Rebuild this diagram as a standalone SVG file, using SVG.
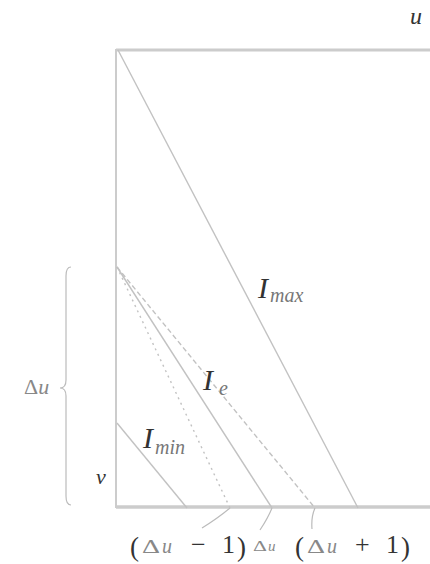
<svg xmlns="http://www.w3.org/2000/svg" width="430" height="564" viewBox="0 0 430 564">
<defs>
<style>
.ax{stroke:#cccccc;fill:none}
.ln{stroke:#c2c2c2;stroke-width:1.4;fill:none}
.pt{stroke:#bbbbbb;stroke-width:1.2;fill:none}
.t{font-family:"Liberation Serif",serif;fill:#333333}
.it{font-style:italic}
.g{fill:#888888}
.sub{font-family:"Liberation Serif",serif;font-style:italic;fill:#777777}
</style>
</defs>
<rect width="430" height="564" fill="#ffffff"/>
<g id="frame">
<line class="ax" x1="116" y1="49" x2="116" y2="508" stroke-width="2"/>
<line class="ax" x1="116" y1="50" x2="430" y2="50" stroke-width="3" stroke="#d4d4d4"/>
<line class="ax" x1="116" y1="507" x2="430" y2="507" stroke-width="3.5" stroke="#dadada"/>
</g>
<g id="connectors">
<line id="Imax-line" class="ln" x1="118" y1="50" x2="358" y2="508"/>
<line id="Imin-line" class="ln" x1="117" y1="423" x2="187" y2="508"/>
<line id="line-du-minus" class="ln" x1="117" y1="267" x2="230" y2="508" stroke-dasharray="2 4"/>
<line id="line-du" class="ln" x1="117" y1="267" x2="272" y2="508"/>
<line id="line-du-plus" class="ln" x1="117" y1="267" x2="315" y2="508" stroke-dasharray="5 3"/>
<path class="pt" d="M202,528 Q218,518 230,508"/>
<path class="pt" d="M260,530 Q268,518 272,508"/>
<path class="pt" d="M312,529 Q311,517 315,508"/>
<path class="pt" d="M71,267 Q66,267 66,276 L66,380 Q66,388 60,388 Q66,388 66,396 L66,496 Q66,505 71,505"/>
</g>
<g id="label-u-top"><text class="t it" x="410" y="24" font-size="24">u</text></g>
<g id="label-Imax"><text class="t it" x="258" y="298" font-size="30">I</text><text class="sub" x="270" y="302" font-size="20">max</text></g>
<g id="label-Ie"><text class="t it" x="203" y="390" font-size="30">I</text><text class="sub" x="219" y="395" font-size="20">e</text></g>
<g id="label-Imin"><text class="t it" x="143" y="448" font-size="30">I</text><text class="sub" x="155" y="454" font-size="20">min</text></g>
<g id="label-du-left"><text class="t g" x="24" y="394" font-size="22">Δ<tspan class="it">u</tspan></text></g>
<g id="label-v"><text class="t it" x="96" y="484" font-size="22">v</text></g>
<g id="label-du-minus">
<text class="t" x="130" y="556" font-size="27">(</text>
<text class="t g" x="142" y="553" font-size="18" textLength="18" lengthAdjust="spacingAndGlyphs">Δ</text>
<text class="t it g" x="162" y="553" font-size="20">u</text>
<text class="t" x="191" y="553" font-size="26">−</text>
<text class="t" x="222" y="553" font-size="26">1</text>
<text class="t" x="237" y="556" font-size="27">)</text>
</g>
<g id="label-du">
<text class="t g" x="253" y="551" font-size="15" textLength="14" lengthAdjust="spacingAndGlyphs">Δ<tspan class="it"></tspan></text>
<text class="t it g" x="268" y="551" font-size="15">u</text>
</g>
<g id="label-du-plus">
<text class="t" x="295" y="556" font-size="27">(</text>
<text class="t g" x="307" y="553" font-size="18" textLength="18" lengthAdjust="spacingAndGlyphs">Δ</text>
<text class="t it g" x="327" y="553" font-size="20">u</text>
<text class="t" x="355" y="553" font-size="26">+</text>
<text class="t" x="386" y="553" font-size="26">1</text>
<text class="t" x="401" y="556" font-size="27">)</text>
</g>
</svg>
